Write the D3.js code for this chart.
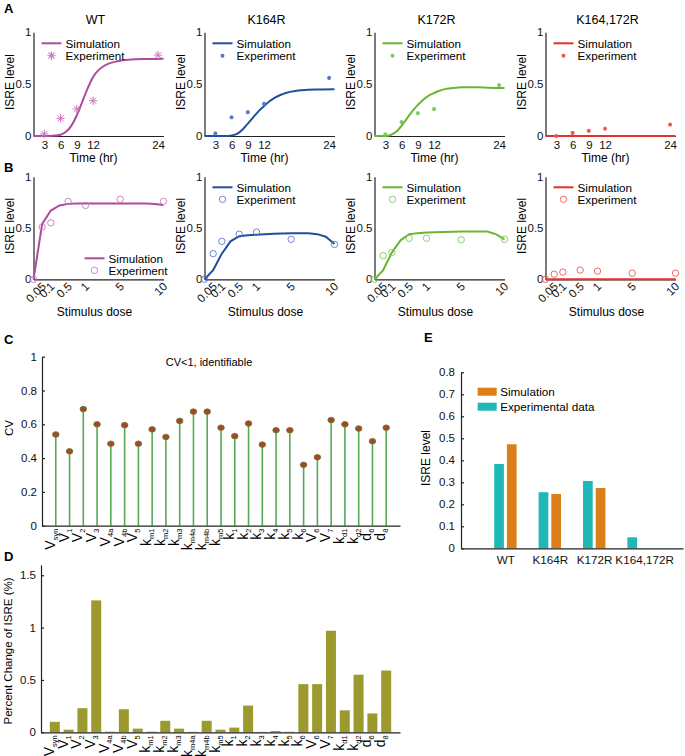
<!DOCTYPE html>
<html>
<head>
<meta charset="utf-8">
<script src="https://cdn.jsdelivr.net/npm/d3@7"></script>
<style>
body { margin: 0; background: #fff; }
svg { font-family: "Liberation Sans", Arial, Helvetica, sans-serif; display: block; }
.axis path, .axis line { stroke: #222; stroke-width: 1.2; }
.axis text { fill: #111; }
</style>
</head>
<body>
<div id="graphic"></div>
<script>
// ---- data ----
const strains = ['WT', 'K164R', 'K172R', 'K164,172R'];
const simColours = ['#b04a9f', '#1f4f9e', '#6bb52f', '#e3312b'];
const expColours = ['#c77bbd', '#5a78c8', '#80c765', '#e95a52'];

// A: time course
const timeTicks = [3, 6, 9, 12, 24];
const timeSim = [1, 3, 4, 5, 6, 7, 8, 9, 10, 11, 12, 13, 14, 15, 16, 17, 18, 20, 22, 25];
const simTimeWT = [0, 0, 0, 0.004, 0.012, 0.04, 0.1, 0.2, 0.33, 0.46, 0.57, 0.635, 0.675, 0.7, 0.715, 0.725, 0.732, 0.74, 0.742, 0.745];
const simTimeK164R = [0, 0, 0, 0, 0.005, 0.02, 0.06, 0.12, 0.18, 0.24, 0.29, 0.335, 0.37, 0.395, 0.415, 0.428, 0.437, 0.445, 0.448, 0.45];
const simTimeK172R = [0, 0, 0.01, 0.04, 0.1, 0.17, 0.24, 0.3, 0.35, 0.39, 0.415, 0.437, 0.452, 0.46, 0.466, 0.469, 0.47, 0.47, 0.466, 0.463];
const simTimeDouble = [0, 0, 0, 0, 0, 0, 0, 0, 0, 0, 0, 0, 0, 0, 0, 0, 0, 0, 0, 0];
const timeExp = [3, 6, 9, 12, 24];
const expTimeWT = [0.02, 0.17, 0.26, 0.34, 0.78];
const expTimeK164R = [0.025, 0.18, 0.23, 0.31, 0.56];
const expTimeK172R = [0.015, 0.135, 0.22, 0.26, 0.49];
const expTimeDouble = [0.0, 0.03, 0.05, 0.07, 0.11];

// B: dose response
const doseTicks = [0.05, 0.1, 0.5, 1, 5, 10];
const doseBreaks = [0, 0.05, 0.1, 0.5, 1, 5, 10];
const doseSim = [0, 0.05, 0.1, 0.3, 0.5, 0.75, 1, 3, 5, 6, 7, 8, 9, 10];
const simDoseWT = [0, 0.54, 0.67, 0.72, 0.735, 0.74, 0.74, 0.74, 0.74, 0.74, 0.74, 0.738, 0.733, 0.725];
const simDoseK164R = [0, 0.09, 0.25, 0.37, 0.42, 0.43, 0.435, 0.445, 0.448, 0.448, 0.448, 0.44, 0.415, 0.345];
const simDoseK172R = [0, 0.09, 0.26, 0.38, 0.44, 0.45, 0.455, 0.46, 0.465, 0.465, 0.465, 0.465, 0.44, 0.39];
const simDoseDouble = [0, 0, 0, 0, 0, 0, 0, 0, 0, 0, 0, 0, 0, 0];
const doseExp = [0, 0.05, 0.1, 0.5, 1, 5, 10];
const expDoseWT = [0, 0.51, 0.55, 0.76, 0.72, 0.78, 0.76];
const expDoseK164R = [0, 0.25, 0.37, 0.44, 0.46, 0.39, 0.34];
const expDoseK172R = [0, 0.23, 0.26, 0.4, 0.4, 0.385, 0.39];
const expDoseDouble = [0, 0.05, 0.07, 0.09, 0.08, 0.06, 0.06];

// C and D: parameters
const params = ['V_syn', 'V_1', 'V_2', 'V_3', 'V_4a', 'V_4b', 'V_5', 'k_m1', 'k_m2', 'k_m3', 'k_m4a', 'k_m4b', 'k_m5',
	'k_1', 'k_2', 'k_3', 'k_4', 'k_5', 'k_6', 'V_6', 'V_7', 'k_d1', 'k_d2', 'd_6', 'd_8'];
const cvValues = [0.54, 0.44, 0.69, 0.6, 0.485, 0.595, 0.485, 0.57, 0.525, 0.62, 0.675, 0.675, 0.58,
	0.53, 0.605, 0.48, 0.565, 0.565, 0.36, 0.405, 0.625, 0.6, 0.575, 0.5, 0.58];
const pctChange = [0.1, 0.025, 0.23, 1.26, 0.006, 0.22, 0.035, 0.006, 0.11, 0.035, 0.004, 0.11, 0.025,
	0.045, 0.255, 0.004, 0.012, 0.005, 0.46, 0.46, 0.97, 0.21, 0.55, 0.18, 0.59];

// E: end point
const expEnd = [0.383, 0.255, 0.306, 0.05];
const simEnd = [0.473, 0.247, 0.274, 0];

const simTime = [simTimeWT, simTimeK164R, simTimeK172R, simTimeDouble];
const expTime = [expTimeWT, expTimeK164R, expTimeK172R, expTimeDouble];
const simDose = [simDoseWT, simDoseK164R, simDoseK172R, simDoseDouble];
const expDose = [expDoseWT, expDoseK164R, expDoseK172R, expDoseDouble];

// ---- layout ----
const panelLeft = [33.5, 204.5, 374.5, 545.5];
const panelWidth = 130;
const doseStops = [0, 1, 2, 4, 6, 10, 15]; // uneven dose axis, in slot units

const svg = d3.select('#graphic').append('svg').attr('width', 685).attr('height', 756);

function panelLetter(txt, x, y) {
	svg.append('text').attr('x', x).attr('y', y).attr('font-size', '13px').attr('font-weight', 'bold').text(txt);
}

function starPath(s) {
	const a = s * 0.72;
	return `M${-s},0H${s}M0,${-s}V${s}M${-a},${-a}L${a},${a}M${-a},${a}L${a},${-a}`;
}

function ylabel(g, txt, x, y, size) {
	g.append('text').attr('transform', `translate(${x},${y}) rotate(-90)`)
		.attr('text-anchor', 'middle').attr('font-size', size).text(txt);
}

// ---- A: time course ----
strains.forEach((name, i) => {
	const x0 = panelLeft[i];
	const g = svg.append('g');
	const x = d3.scaleLinear().domain([1, 25]).range([x0, x0 + panelWidth]);
	const y = d3.scaleLinear().domain([0, 1]).range([136, 32.3]);

	g.append('text').attr('x', x0 + 62).attr('y', 24).attr('text-anchor', 'middle').attr('font-size', '12.5px').text(name);

	g.append('g').attr('class', 'axis').attr('transform', 'translate(0,' + y(0) + ')')
		.call(d3.axisBottom(x).tickValues(timeTicks).tickSize(0).tickPadding(5))
		.attr('font-size', '11.5px').attr('font-family', null);
	g.append('g').attr('class', 'axis').attr('transform', 'translate(' + x0 + ',0)')
		.call(d3.axisLeft(y).tickValues([0, 0.5, 1]).tickFormat(d3.format('~g')).tickSize(0).tickPadding(2))
		.attr('font-size', '11.5px').attr('font-family', null);

	g.append('text').attr('x', x0 + 60).attr('y', 162).attr('text-anchor', 'middle').attr('font-size', '12px').text('Time (hr)');
	ylabel(g, 'ISRE level', x0 - 19.5, y(0.52), '12px');

	const line = d3.line().x((d) => x(d[0])).y((d) => y(d[1])).curve(d3.curveMonotoneX);
	g.append('path').datum(timeSim.map((t, k) => [t, simTime[i][k]]))
		.attr('d', line).attr('fill', 'none').attr('stroke', simColours[i]).attr('stroke-width', 2);

	const s = i == 0 ? 4.2 : 2;
	g.append('g').selectAll('path').data(timeExp.map((t, k) => [t, expTime[i][k]])).join('path')
		.attr('transform', (d) => `translate(${x(d[0])},${y(d[1])})`)
		.attr('d', starPath(s)).attr('stroke', expColours[i]).attr('stroke-width', i == 0 ? 1 : 1.2).attr('fill', 'none');

	// legend
	const lg = g.append('g').attr('transform', `translate(${x0},0)`);
	lg.append('line').attr('x1', 8).attr('x2', 28).attr('y1', 43.3).attr('y2', 43.3).attr('stroke', simColours[i]).attr('stroke-width', 2);
	lg.append('path').attr('transform', 'translate(18,55.7)').attr('d', starPath(s)).attr('stroke', expColours[i]).attr('stroke-width', 1.1).attr('fill', 'none');
	lg.append('text').attr('x', 32).attr('y', 47.6).attr('font-size', '11.7px').text('Simulation');
	lg.append('text').attr('x', 32).attr('y', 60).attr('font-size', '11.7px').text('Experiment');
});

// ---- B: dose response ----
strains.forEach((name, i) => {
	const x0 = panelLeft[i];
	const g = svg.append('g');
	const unit = panelWidth / doseStops[doseStops.length - 1];
	const x = d3.scaleLinear().domain(doseBreaks).range(doseStops.map((d) => x0 + d * unit));
	const y = d3.scaleLinear().domain([0, 1]).range([279.3, 176.7]);

	const xa = g.append('g').attr('class', 'axis').attr('transform', 'translate(0,' + y(0) + ')')
		.call(d3.axisBottom(x).tickValues(doseTicks).tickFormat(d3.format('~g')).tickSize(0))
		.attr('font-size', '11.5px').attr('font-family', null);
	xa.selectAll('text').attr('y', 0).attr('dy', 0).attr('text-anchor', 'end')
		.attr('transform', 'translate(4,8) rotate(-45)');
	g.append('g').attr('class', 'axis').attr('transform', 'translate(' + x0 + ',0)')
		.call(d3.axisLeft(y).tickValues([0, 0.5, 1]).tickFormat(d3.format('~g')).tickSize(0).tickPadding(2))
		.attr('font-size', '11.5px').attr('font-family', null);

	g.append('text').attr('x', x0 + 61).attr('y', 316).attr('text-anchor', 'middle').attr('font-size', '12px').text('Stimulus dose');
	ylabel(g, 'ISRE level', x0 - 19.5, y(0.52), '12px');

	const line = d3.line().x((d) => x(d[0])).y((d) => y(d[1]));
	g.append('path').datum(doseSim.map((t, k) => [t, simDose[i][k]]))
		.attr('d', line).attr('fill', 'none').attr('stroke', simColours[i]).attr('stroke-width', 2);

	g.append('g').selectAll('circle').data(doseExp.map((t, k) => [t, expDose[i][k]])).join('circle')
		.attr('cx', (d) => x(d[0])).attr('cy', (d) => y(d[1])).attr('r', 3.2)
		.attr('fill', 'none').attr('stroke', expColours[i]).attr('stroke-width', 0.9);

	// legend (WT sits lower right)
	const lx = i == 0 ? x0 + 51 : x0 + 8;
	const ly = i == 0 ? 258.3 : 187.3;
	const lg = g.append('g').attr('transform', `translate(${lx},${ly})`);
	lg.append('line').attr('x1', 0).attr('x2', 20).attr('stroke', simColours[i]).attr('stroke-width', 2);
	lg.append('circle').attr('cx', 10).attr('cy', 12).attr('r', 3.2).attr('fill', 'none').attr('stroke', expColours[i]).attr('stroke-width', 0.9);
	lg.append('text').attr('x', 24).attr('y', 4.2).attr('font-size', '11.7px').text('Simulation');
	lg.append('text').attr('x', 24).attr('y', 16.4).attr('font-size', '11.7px').text('Experiment');
});

// ---- parameter labels with subscripts ----
function paramLabels(g, xs, yAxis) {
	g.append('g').selectAll('text').data(params).join('text')
		.attr('transform', (d) => `translate(${xs(d) - 1},${yAxis + 3}) rotate(-90)`)
		.attr('text-anchor', 'end')
		.each(function (d) {
			const [main, sub] = d.split('_');
			const t = d3.select(this);
			t.append('tspan').attr('font-size', '14px').text(main);
			t.append('tspan').attr('font-size', '7.5px').attr('dy', 3).text(sub);
		});
}

// ---- C: CV stems ----
{
	const g = svg.append('g');
	const x = d3.scalePoint().domain(params).range([42, 400]).padding(1);
	const y = d3.scaleLinear().domain([0, 1]).range([525.7, 356.7]);

	g.append('g').selectAll('line').data(params).join('line')
		.attr('x1', (d) => x(d)).attr('x2', (d) => x(d))
		.attr('y1', y(0)).attr('y2', (d, k) => y(cvValues[k]))
		.attr('stroke', '#55a955').attr('stroke-width', 1.6);
	g.append('g').selectAll('ellipse').data(params).join('ellipse')
		.attr('cx', (d) => x(d)).attr('cy', (d, k) => y(cvValues[k]))
		.attr('rx', 3.3).attr('ry', 2.8)
		.attr('fill', '#a2482b').attr('stroke', '#6f7a2c').attr('stroke-width', 0.8);

	g.append('g').attr('class', 'axis').attr('transform', 'translate(0,' + y(0) + ')')
		.call(d3.axisBottom(x).tickValues([]).tickSizeOuter(0));
	g.append('g').attr('class', 'axis').attr('transform', 'translate(42,0)')
		.call(d3.axisLeft(y).tickValues([0, 0.2, 0.4, 0.6, 0.8, 1]).tickFormat(d3.format('~g')).tickSizeInner(-3).tickSizeOuter(0).tickPadding(5))
		.attr('font-size', '11.5px').attr('font-family', null);

	g.append('text').attr('x', 209).attr('y', 365.5).attr('text-anchor', 'middle').attr('font-size', '11px').text('CV<1, identifiable');
	ylabel(g, 'CV', 13, 428, '11.5px');
	paramLabels(g, x, y(0));
}

// ---- D: percent change bars ----
{
	const g = svg.append('g');
	const x = d3.scalePoint().domain(params).range([41, 400]).padding(1);
	const y = d3.scaleLinear().domain([0, 1.6]).range([732.3, 732.3 - 1.6 * 104.7]);
	const bw = 10;

	g.append('g').selectAll('rect').data(params).join('rect')
		.attr('x', (d) => x(d) - bw / 2).attr('width', bw)
		.attr('y', (d, k) => y(pctChange[k])).attr('height', (d, k) => y(0) - y(pctChange[k]))
		.attr('fill', '#9c9a2e');

	g.append('g').attr('class', 'axis').attr('transform', 'translate(0,' + y(0) + ')')
		.call(d3.axisBottom(x).tickValues([]).tickSizeOuter(0));
	g.append('g').attr('class', 'axis').attr('transform', 'translate(41,0)')
		.call(d3.axisLeft(y).tickValues([0, 0.5, 1, 1.5]).tickFormat(d3.format('~g')).tickSizeInner(-3).tickSizeOuter(0).tickPadding(5))
		.attr('font-size', '11.5px').attr('font-family', null);

	ylabel(g, 'Percent Change of ISRE (%)', 12, 651, '11.5px');
	paramLabels(g, x, y(0));
}

// ---- E: end point bars ----
{
	const g = svg.append('g');
	const x = d3.scalePoint().domain(strains).range([461, 683]).padding(1);
	const y = d3.scaleLinear().domain([0, 0.8]).range([548.3, 372.3]);
	const bw = 9.7;

	g.append('g').selectAll('rect').data(strains).join('rect')
		.attr('x', (d) => x(d) - 1.5 - bw).attr('width', bw)
		.attr('y', (d, k) => y(expEnd[k])).attr('height', (d, k) => y(0) - y(expEnd[k]))
		.attr('fill', '#20b7b7');
	g.append('g').selectAll('rect').data(strains).join('rect')
		.attr('x', (d) => x(d) + 1.5).attr('width', bw)
		.attr('y', (d, k) => y(simEnd[k])).attr('height', (d, k) => y(0) - y(simEnd[k]))
		.attr('fill', '#db8018');

	const xa = g.append('g').attr('class', 'axis').attr('transform', 'translate(0,' + y(0) + ')')
		.call(d3.axisBottom(x).tickSize(0).tickPadding(7).tickSizeOuter(0))
		.attr('font-size', '11.7px').attr('font-family', null);
	// the long last label sits a little to the right in the original
	xa.selectAll('text').attr('dx', (d, k) => (k == strains.length - 1 ? 5.5 : 0));
	g.append('g').attr('class', 'axis').attr('transform', 'translate(461,0)')
		.call(d3.axisLeft(y).tickValues(d3.range(0, 0.81, 0.1)).tickFormat(d3.format('~g')).tickSizeInner(-3).tickSizeOuter(0).tickPadding(6))
		.attr('font-size', '11.5px').attr('font-family', null);

	ylabel(g, 'ISRE level', 430, 458, '12px');

	const lg = g.append('g').attr('transform', 'translate(477.7,387.7)');
	lg.append('rect').attr('width', 19).attr('height', 8).attr('fill', '#db8018');
	lg.append('rect').attr('y', 15).attr('width', 19).attr('height', 8).attr('fill', '#20b7b7');
	lg.append('text').attr('x', 22.5).attr('y', 8.3).attr('font-size', '11.7px').text('Simulation');
	lg.append('text').attr('x', 22.5).attr('y', 23.3).attr('font-size', '11.7px').text('Experimental data');
}

panelLetter('A', 4, 13);
panelLetter('B', 4, 172);
panelLetter('C', 4, 344);
panelLetter('D', 4, 561);
panelLetter('E', 424, 342);
</script>
</body>
</html>
